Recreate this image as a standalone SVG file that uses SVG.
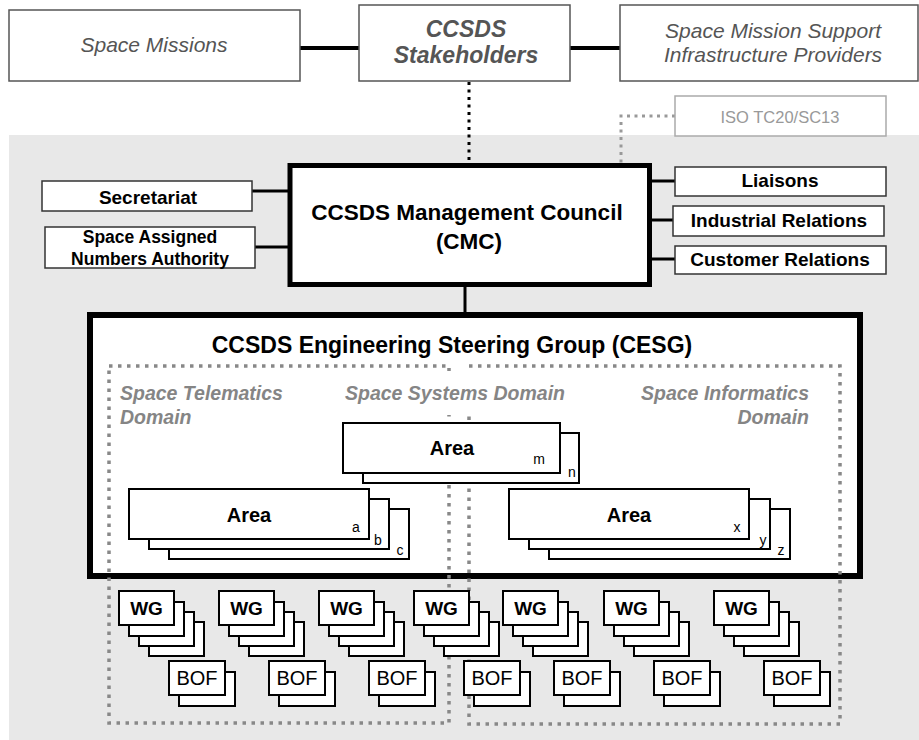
<svg xmlns="http://www.w3.org/2000/svg" width="919" height="740" viewBox="0 0 919 740">
<style>
  text { font-family: "Liberation Sans", Arial, sans-serif; }
  .top { fill: #fff; stroke: #555; stroke-width: 1.5; }
  .topt { fill: #555; font-style: italic; font-size: 21px; text-anchor: middle; }
  .side { fill: #fff; stroke: #333; stroke-width: 1.5; }
  .sidet { fill: #000; font-weight: bold; font-size: 19px; text-anchor: middle; }
  .conn { stroke: #000; stroke-width: 3; fill: none; }
  .thick { stroke: #000; stroke-width: 4; fill: none; }
  .bdot { stroke: #000; stroke-width: 3; stroke-dasharray: 3 4.5; fill: none; }
  .gdot { stroke: #999; stroke-width: 3; stroke-dasharray: 3 4.5; fill: none; }
  .dom { stroke: #888; stroke-width: 3.5; stroke-dasharray: 3.5 5.5; fill: none; }
  .domt { fill: #858585; font-style: italic; font-weight: bold; font-size: 19.5px; }
  .box { fill: #fff; stroke: #000; stroke-width: 2; }
  .area { fill: #000; font-weight: bold; font-size: 20px; text-anchor: middle; }
  .sub { fill: #000; font-size: 14px; text-anchor: middle; }
  .wg { fill: #000; font-weight: bold; font-size: 19px; text-anchor: middle; }
  .bof { fill: #000; font-size: 20px; text-anchor: middle; }
</style>
<defs>
  <g id="wgstack">
    <rect class="box" x="30" y="31" width="55" height="34"/>
    <rect class="box" x="20" y="21" width="55" height="34"/>
    <rect class="box" x="10" y="11" width="55" height="34"/>
    <rect class="box" x="0" y="0" width="55" height="34"/>
    <text class="wg" x="27.5" y="24">WG</text>
  </g>
  <g id="bofstack">
    <rect class="box" x="10" y="11" width="56" height="34"/>
    <rect class="box" x="0" y="0" width="56" height="34"/>
    <text class="bof" x="28" y="24">BOF</text>
  </g>
</defs>
<rect x="0" y="0" width="919" height="740" fill="#fff"/>
<rect x="9" y="135" width="910" height="605" fill="#e8e8e8"/>

<g id="connectors">
  <line class="thick" x1="300" y1="48" x2="360" y2="48"/>
  <line class="thick" x1="570" y1="48" x2="620" y2="48"/>
  <line class="bdot" x1="469" y1="82" x2="469" y2="164"/>
  <polyline class="gdot" points="675,116 621,116 621,164"/>
  <line class="conn" x1="252" y1="191" x2="290" y2="191"/>
  <line class="conn" x1="255" y1="247" x2="290" y2="247"/>
  <line class="conn" x1="649" y1="181" x2="675" y2="181"/>
  <line class="conn" x1="649" y1="220" x2="673" y2="220"/>
  <line class="conn" x1="649" y1="259" x2="675" y2="259"/>
  <line class="conn" x1="465" y1="285" x2="465" y2="313"/>
</g>

<g id="space-missions">
  <rect class="top" x="9" y="10" width="291" height="71"/>
  <text class="topt" x="154" y="52">Space Missions</text>
</g>
<g id="stakeholders">
  <rect class="top" x="359" y="5" width="211" height="76"/>
  <text class="topt" x="466" y="37" style="font-weight:bold;font-size:23px">CCSDS</text>
  <text class="topt" x="466" y="63" style="font-weight:bold;font-size:23px">Stakeholders</text>
</g>
<g id="infrastructure">
  <rect class="top" x="620" y="5" width="298" height="76"/>
  <text class="topt" x="773" y="38">Space Mission Support</text>
  <text class="topt" x="773" y="62">Infrastructure Providers</text>
</g>
<g id="iso">
  <rect x="675" y="96" width="211" height="40" fill="#fff" stroke="#aaa" stroke-width="1.5"/>
  <text x="780" y="123" fill="#999" font-size="16.5" text-anchor="middle">ISO TC20/SC13</text>
</g>

<g id="secretariat">
  <rect class="side" x="42" y="181" width="210" height="30"/>
  <text class="sidet" x="148" y="204">Secretariat</text>
</g>
<g id="sana">
  <rect class="side" x="45" y="227" width="210" height="41"/>
  <text class="sidet" x="150" y="243" style="font-size:17.5px">Space Assigned</text>
  <text class="sidet" x="150" y="265" style="font-size:17.5px">Numbers Authority</text>
</g>
<g id="liaisons">
  <rect class="side" x="675" y="167" width="211" height="29"/>
  <text class="sidet" x="780" y="187">Liaisons</text>
</g>
<g id="industrial">
  <rect class="side" x="673" y="206" width="211" height="30"/>
  <text class="sidet" x="779" y="227">Industrial Relations</text>
</g>
<g id="customer">
  <rect class="side" x="675" y="246" width="211" height="28"/>
  <text class="sidet" x="780" y="266">Customer Relations</text>
</g>

<g id="cmc">
  <rect x="290" y="165.5" width="359.5" height="119" fill="#fff" stroke="#000" stroke-width="5"/>
  <text x="467" y="220" font-weight="bold" font-size="22.5" text-anchor="middle">CCSDS Management Council</text>
  <text x="469" y="249" font-weight="bold" font-size="22.5" text-anchor="middle">(CMC)</text>
</g>

<g id="cesg">
  <rect x="90" y="315" width="770" height="261" fill="#fff" stroke="#000" stroke-width="6"/>
  <text x="452" y="353" font-weight="bold" font-size="23" text-anchor="middle">CCSDS Engineering Steering Group (CESG)</text>
</g>

<g id="telematics-domain">
  <rect class="dom" x="109" y="366" width="340" height="357"/>
  <text class="domt" x="120" y="400">Space Telematics</text>
  <text class="domt" x="120" y="424">Domain</text>
</g>
<g id="informatics-domain">
  <rect class="dom" x="469" y="366" width="371" height="358"/>
  <text class="domt" x="809" y="400" text-anchor="end">Space Informatics</text>
  <text class="domt" x="809" y="424" text-anchor="end">Domain</text>
</g>
<g id="systems-domain">
  <rect x="340" y="371" width="232" height="44" fill="#fff"/>
  <text class="domt" x="455" y="400" text-anchor="middle">Space Systems Domain</text>
</g>

<g id="area-mn">
  <rect class="box" x="363" y="433" width="216" height="50"/>
  <rect class="box" x="343" y="423" width="217" height="50"/>
  <text class="area" x="452" y="455">Area</text>
  <text class="sub" x="539" y="464">m</text>
  <text class="sub" x="572" y="477">n</text>
</g>
<g id="area-abc">
  <rect class="box" x="169" y="509" width="240" height="50"/>
  <rect class="box" x="149" y="499" width="240" height="50"/>
  <rect class="box" x="129" y="489" width="240" height="50"/>
  <text class="area" x="249" y="522">Area</text>
  <text class="sub" x="356" y="532">a</text>
  <text class="sub" x="378" y="545">b</text>
  <text class="sub" x="400" y="555">c</text>
</g>
<g id="area-xyz">
  <rect class="box" x="549" y="509" width="241" height="50"/>
  <rect class="box" x="529" y="499" width="241" height="50"/>
  <rect class="box" x="509" y="489" width="240" height="50"/>
  <text class="area" x="629" y="522">Area</text>
  <text class="sub" x="737" y="532">x</text>
  <text class="sub" x="763" y="545">y</text>
  <text class="sub" x="781" y="555">z</text>
</g>

<g id="wg1"><use href="#wgstack" x="119" y="591"/></g>
<g id="wg2"><use href="#wgstack" x="219" y="591"/></g>
<g id="wg3"><use href="#wgstack" x="319" y="591"/></g>
<g id="wg4"><use href="#wgstack" x="414" y="591"/></g>
<g id="wg5"><use href="#wgstack" x="503" y="591"/></g>
<g id="wg6"><use href="#wgstack" x="604" y="591"/></g>
<g id="wg7"><use href="#wgstack" x="714" y="591"/></g>

<g id="bof1"><use href="#bofstack" x="169" y="661"/></g>
<g id="bof2"><use href="#bofstack" x="269" y="661"/></g>
<g id="bof3"><use href="#bofstack" x="369" y="661"/></g>
<g id="bof4"><use href="#bofstack" x="464" y="661"/></g>
<g id="bof5"><use href="#bofstack" x="554" y="661"/></g>
<g id="bof6"><use href="#bofstack" x="654" y="661"/></g>
<g id="bof7"><use href="#bofstack" x="764" y="661"/></g>
</svg>
